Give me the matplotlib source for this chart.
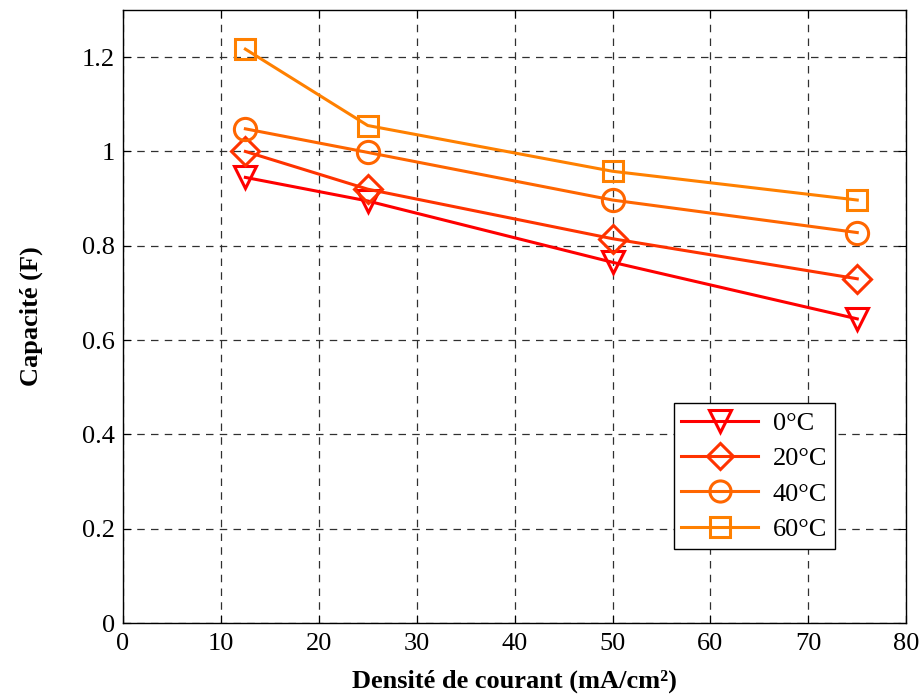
import matplotlib.pyplot as plt

plt.rcParams['font.family'] = ['Liberation Serif', 'DejaVu Serif']
plt.rcParams['mathtext.fontset'] = 'stix'

densite = [12.5, 25, 50, 75]
cap_0 = [0.945, 0.895, 0.765, 0.645]
cap_20 = [1.00, 0.92, 0.815, 0.73]
cap_40 = [1.048, 0.998, 0.897, 0.828]
cap_60 = [1.217, 1.055, 0.958, 0.897]
labels = ['0°C', '20°C', '40°C', '60°C']

series = [cap_0, cap_20, cap_40, cap_60]
colors = ['#ff0000', '#ff3300', '#ff6600', '#ff8000']
markers = ['v', 'D', 'o', 's']
msizes = [16, 14, 16, 15]

fig = plt.figure(figsize=(9.2, 6.99), dpi=100)
ax = fig.add_axes([0.1337, 0.1087, 0.8513, 0.877])

for vals, c, m, ms, lab in zip(series, colors, markers, msizes, labels):
    ax.plot(densite, vals, color=c, lw=2.2, marker=m, ms=ms, mfc='none',
            mec=c, mew=2.2, label=lab)

ax.set_xlim(0, 80)
ax.set_ylim(0, 1.3)
ax.set_xticks(range(0, 81, 10))
ax.set_yticks([0, 0.2, 0.4, 0.6, 0.8, 1, 1.2])
ax.set_yticklabels(['0', '0.2', '0.4', '0.6', '0.8', '1', '1.2'])
ax.tick_params(direction='in', top=True, right=True, labelsize=19, length=6)
ax.tick_params(axis='x', pad=7)
ax.tick_params(axis='y', pad=6)
ax.grid(True, color='#303030', linestyle=(0, (6, 5)), lw=0.9)
for s in ax.spines.values():
    s.set_linewidth(1)

ax.set_xlabel('Densité de courant (mA/cm²)', fontsize=19, fontweight='bold', labelpad=11)
ax.set_ylabel('Capacité (F)', fontsize=19, fontweight='bold', labelpad=28)

leg = ax.legend(loc='lower right', bbox_to_anchor=(0.909, 0.121), borderaxespad=0,
                fontsize=19, fancybox=False, edgecolor='black', framealpha=1,
                handlelength=2.9, handletextpad=0.55, borderpad=0.3,
                labelspacing=0.45, markerscale=0.95)
leg.get_frame().set_linewidth(1)

plt.savefig('out.png', dpi=100)
